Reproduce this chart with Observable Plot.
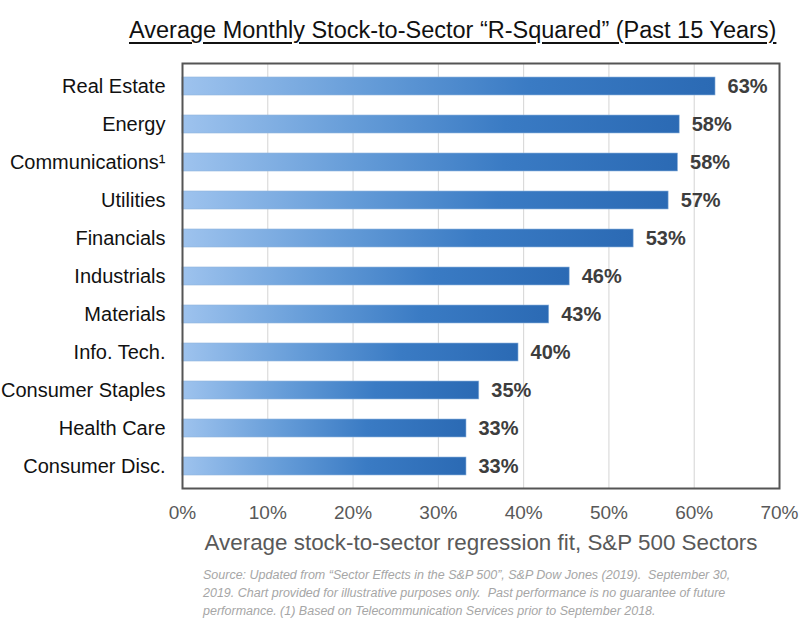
<!DOCTYPE html>
<html>
<head>
<meta charset="utf-8">
<script src="https://cdn.jsdelivr.net/npm/d3@7"></script>
<script src="https://cdn.jsdelivr.net/npm/@observablehq/plot@0.6"></script>
<style>
  html, body { margin: 0; padding: 0; background: #fff; }
  body { width: 809px; height: 625px; overflow: hidden; font-family: "Liberation Sans", Arial, sans-serif; }
  #title { height: 31px; padding-top: 19px; font-size: 23.5px; line-height: 23.5px; color: #111; padding-left: 129px; white-space: nowrap; }
  #title span { text-decoration: underline; text-underline-offset: 4px; text-decoration-thickness: 1.5px; }
  #chart svg { display: block; }
  #note { margin-top: 10px; padding-left: 203px; font-size: 12.5px; line-height: 18px; font-style: italic; color: #a6a6a6; white-space: nowrap; }
</style>
</head>
<body>
<div id="title"><span>Average Monthly Stock-to-Sector “R-Squared” (Past 15 Years)</span></div>
<div id="chart"></div>
<div id="note">Source: Updated from “Sector Effects in the S&amp;P 500”, S&amp;P Dow Jones (2019).&nbsp; September 30,<br>2019. Chart provided for illustrative purposes only.&nbsp; Past performance is no guarantee of future<br>performance. (1) Based on Telecommunication Services prior to September 2018.</div>
<script>
const sectors = ["Real Estate", "Energy", "Communications¹", "Utilities", "Financials", "Industrials", "Materials", "Info. Tech.", "Consumer Staples", "Health Care", "Consumer Disc."];
const values = [62.5, 58.3, 58.1, 57.0, 52.9, 45.4, 43.0, 39.4, 34.8, 33.3, 33.3];
const valueLabels = ["63%", "58%", "58%", "57%", "53%", "46%", "43%", "40%", "35%", "33%", "33%"];
const xTicks = [0, 10, 20, 30, 40, 50, 60, 70];
const xLabel = "Average stock-to-sector regression fit, S&P 500 Sectors";

const data = sectors.map((s, i) => ({sector: s, value: values[i], label: valueLabels[i]}));

const plot = Plot.plot({
  width: 809,
  height: 506,
  marginLeft: 182,
  marginRight: 30,
  marginTop: 13,
  marginBottom: 68,
  style: {fontFamily: "'Liberation Sans', Arial, sans-serif", background: "#fff"},
  x: {domain: [0, 70]},
  y: {domain: sectors, paddingInner: 0.53, paddingOuter: 0.265},
  marks: [
    Plot.gridX(xTicks, {stroke: "#d4d4d4", strokeOpacity: 1, strokeWidth: 1}),
    Plot.barX(data, {x: "value", y: "sector", fill: "url(#barGrad)", stroke: "#8fb4dd", strokeWidth: 0.6}),
    Plot.text(data, {x: "value", y: "sector", text: "label", dx: 12, textAnchor: "start", fontWeight: "bold", fontSize: 20, fill: "#3d3d3d"}),
    Plot.axisY({tickSize: 0, tickPadding: 17, fontSize: 20, color: "#111", label: null}),
    Plot.axisX({ticks: xTicks, tickSize: 0, tickPadding: 17, tickFormat: d => d + "%", fontSize: 19, color: "#595959", label: xLabel, labelAnchor: "center", labelArrow: "none", labelOffset: 61}),
    Plot.frame({stroke: "#555", strokeWidth: 2})
  ]
});

const svg = d3.select(plot);
const defs = svg.insert("defs", ":first-child");
const g = defs.append("linearGradient").attr("id", "barGrad").attr("x1", "0").attr("y1", "0").attr("x2", "1").attr("y2", "0");
g.append("stop").attr("offset", "0%").attr("stop-color", "#9ec3ee");
g.append("stop").attr("offset", "35%").attr("stop-color", "#659cd8");
g.append("stop").attr("offset", "65%").attr("stop-color", "#3a7bc4");
g.append("stop").attr("offset", "100%").attr("stop-color", "#2b6ab4");
svg.selectAll("[aria-label='x-axis label'] text").attr("font-size", 22.4).attr("fill", "#595959");
document.getElementById("chart").appendChild(plot);
</script>
</body>
</html>
